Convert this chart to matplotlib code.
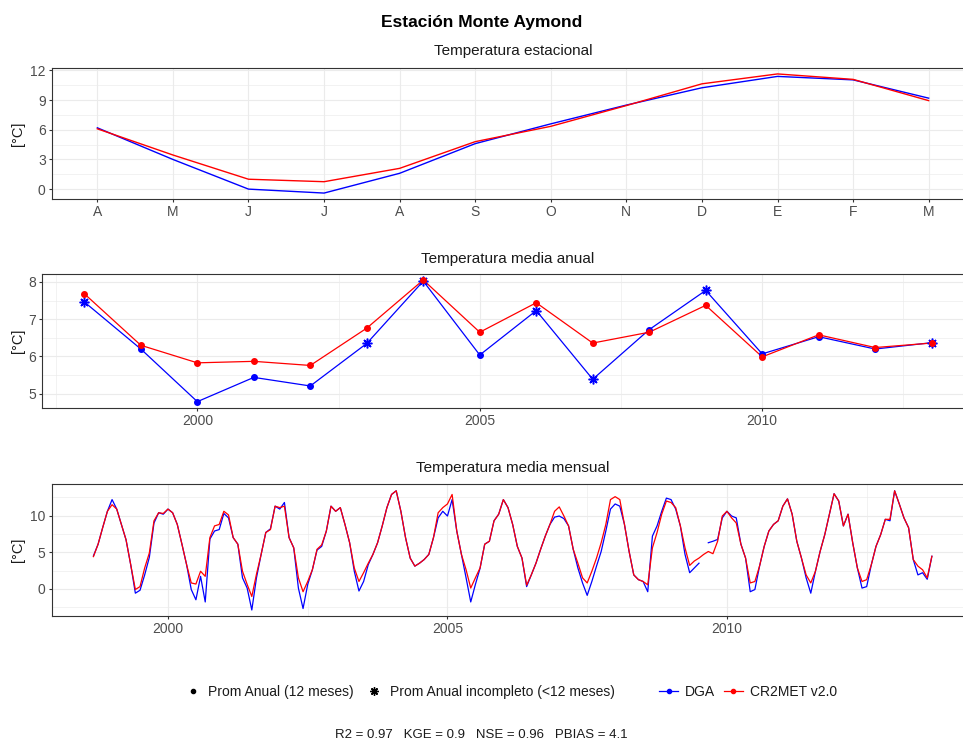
import numpy as np
import matplotlib
matplotlib.use("Agg")
import matplotlib.pyplot as plt
from matplotlib.lines import Line2D
from matplotlib.ticker import MultipleLocator, FixedLocator

plt.rcParams['font.family'] = ['Liberation Sans', 'DejaVu Sans']

# ---------------- data ----------------
meses = ['A', 'M', 'J', 'J', 'A', 'S', 'O', 'N', 'D', 'E', 'F', 'M']
dga_estacional = [6.2, 3.0, 0.0, -0.4, 1.6, 4.6, 6.6, 8.5, 10.25, 11.4, 11.05, 9.2]
cr2_estacional = [6.1, 3.45, 1.0, 0.75, 2.1, 4.8, 6.35, 8.45, 10.65, 11.65, 11.1, 8.95]

anios = list(range(1998, 2014))
dga_anual = [7.46, 6.20, 4.79, 5.44, 5.21, 6.35, 8.02, 6.04, 7.23, 5.39, 6.72, 7.77,
             6.07, 6.53, 6.20, 6.37]
cr2_anual = [7.68, 6.30, 5.83, 5.87, 5.76, 6.76, 8.05, 6.65, 7.44, 6.36, 6.65, 7.37,
             5.99, 6.58, 6.24, 6.36]
dga_completo = [False, True, True, True, True, False, False, True, False, False, True,
                False, True, True, True, False]
cr2_completo = [True] * 16

# monthly series, September 1998 .. September 2013
mes_inicio = (1998, 9)
dga_mensual = [
    4.5, 6.1, 8.4, 10.6,                                                   # 1998
    12.2, 10.9, 8.8, 6.7, 3.3, -0.6, -0.2, 1.9, 4.3, 9.0, 10.4, 10.2,      # 1999
    10.9, 10.4, 8.8, 6.1, 3.3, -0.1, -1.5, 1.7, -1.8, 6.8, 7.9, 8.1,       # 2000
    10.3, 9.7, 7.0, 6.1, 1.5, 0.1, -2.9, 1.5, 4.7, 7.7, 8.2, 11.3,         # 2001
    10.9, 11.8, 7.0, 5.6, 0.1, -2.7, 0.6, 2.6, 5.3, 5.8, 7.9, 11.3,        # 2002
    10.6, 11.1, 8.8, 6.3, 2.4, -0.3, 1.0, 3.3, 4.7, 6.3, 8.6, 11.1,        # 2003
    12.9, 13.4, 10.6, 7.0, 4.2, 3.1, 3.5, 4.0, 4.7, 7.0, 9.7, 10.6,        # 2004
    9.95, 12.2, 7.9, 4.7, 1.5, -1.8, 0.6, 2.8, 6.1, 6.5, 9.3, 10.2,        # 2005
    12.2, 11.1, 8.8, 5.8, 4.2, 0.3, 1.9, 3.5, 5.4, 7.2, 8.8, 9.8,          # 2006
    9.95, 9.6, 8.6, 5.4, 2.85, 0.8, -0.9, 1.0, 3.1, 5.1, 7.9, 10.9,        # 2007
    11.6, 11.3, 8.8, 5.1, 1.9, 1.25, 1.0, -0.4, 7.2, 8.6, 10.6, 12.4,      # 2008
    12.2, 10.9, 8.6, 4.7, 2.2, 2.85, 3.5, np.nan, 6.3, 6.5, 6.75, 9.7,     # 2009
    10.6, 9.95, 9.7, 6.1, 4.2, -0.4, -0.1, 3.1, 5.8, 7.9, 8.8, 9.3,        # 2010
    11.3, 12.3, 10.2, 6.5, 4.2, 1.5, -0.6, 2.4, 5.1, 7.4, 10.2, 13.0,      # 2011
    12.0, 8.6, 10.2, 6.3, 2.85, 0.1, 0.3, 3.3, 5.8, 7.4, 9.5, 9.3,         # 2012
    13.4, 11.6, 9.7, 8.35, 4.0, 1.9, 2.2, 1.3, 4.45,                       # 2013
]
cr2_mensual = [
    4.4, 6.1, 8.4, 10.6,                                                   # 1998
    11.5, 10.9, 8.8, 6.7, 3.3, -0.1, 0.3, 2.85, 4.9, 9.3, 10.4, 10.3,      # 1999
    10.9, 10.4, 8.8, 6.1, 3.3, 0.8, 0.65, 2.4, 1.7, 7.0, 8.6, 8.8,         # 2000
    10.6, 10.1, 7.0, 6.1, 2.4, 0.6, -1.05, 2.0, 4.7, 7.7, 8.1, 11.3,       # 2001
    11.1, 11.3, 7.0, 5.6, 1.5, -0.4, 1.0, 2.6, 5.4, 6.0, 7.9, 11.3,        # 2002
    10.6, 11.1, 8.8, 6.3, 2.85, 1.0, 2.2, 3.5, 4.7, 6.3, 8.6, 11.1,        # 2003
    12.9, 13.4, 10.6, 7.0, 4.2, 3.1, 3.5, 4.0, 4.7, 7.0, 10.4, 11.1,       # 2004
    11.6, 12.9, 7.9, 4.7, 2.6, 0.1, 1.5, 2.85, 6.1, 6.5, 9.3, 10.2,        # 2005
    12.2, 11.1, 8.8, 5.8, 4.2, 0.5, 1.9, 3.5, 5.4, 7.2, 8.8, 10.6,         # 2006
    11.2, 9.95, 8.6, 5.4, 3.5, 1.5, 0.8, 2.4, 4.2, 6.3, 8.8, 12.2,         # 2007
    12.6, 12.2, 8.8, 5.1, 1.9, 1.25, 1.0, 0.55, 5.6, 7.7, 10.2, 12.0,      # 2008
    11.8, 11.1, 8.6, 5.6, 3.2, 3.8, 4.2, 4.7, 5.1, 4.8, 6.5, 9.95,         # 2009
    10.6, 9.7, 9.0, 6.1, 4.2, 0.8, 1.0, 3.1, 5.8, 7.9, 8.8, 9.3,           # 2010
    11.3, 12.3, 10.2, 6.5, 4.2, 1.9, 0.8, 2.4, 5.1, 7.4, 10.2, 13.0,       # 2011
    12.0, 8.6, 10.2, 6.3, 2.85, 1.0, 1.25, 3.3, 5.8, 7.4, 9.5, 9.5,        # 2012
    13.4, 11.6, 9.7, 8.35, 4.0, 3.1, 2.6, 1.5, 4.45,                       # 2013
]

metricas = {'R2': '0.97', 'KGE': '0.9', 'NSE': '0.96', 'PBIAS': '4.1'}

# ---------------- figure ----------------
W, H = 963, 742
fig = plt.figure(figsize=(W / 100, H / 100), dpi=100)

C_DGA = '#0000FF'
C_CR2 = '#FF0000'
STAR = (8, 2, 0)


def axes_px(left, top, right, bottom):
    return fig.add_axes([left / W, 1 - bottom / H, (right - left) / W, (bottom - top) / H])


def estilo(ax):
    ax.set_facecolor('white')
    for s in ax.spines.values():
        s.set_color('#333333')
        s.set_linewidth(0.8)
    ax.grid(which='major', color='#EBEBEB', lw=0.8)
    ax.grid(which='minor', color='#EBEBEB', lw=0.45)
    ax.set_axisbelow(True)
    ax.tick_params(which='major', direction='out', length=2.5, width=0.8,
                   color='#333333', labelsize=10, labelcolor='#4D4D4D', pad=2)
    ax.tick_params(which='minor', length=0)


def titulo_panel(ax, texto, y_px):
    bb = ax.get_position()
    fig.text(bb.x0 + bb.width / 2, 1 - y_px / H, texto, ha='center', va='center',
             fontsize=11, color='#1A1A1A')


def etiqueta_y(ax):
    bb = ax.get_position()
    fig.text(18 / W, bb.y0 + bb.height / 2, '[°C]', rotation=90, ha='center',
             va='center', fontsize=10.5, color='#1A1A1A')


fig.text(0.5, 1 - 22 / H, 'Estación Monte Aymond', ha='center', va='center',
         fontsize=12.5, fontweight='bold')

# --- seasonal panel
ax1 = axes_px(52, 68, 974, 199)
estilo(ax1)
xm = np.arange(len(meses))
ax1.plot(xm, dga_estacional, color=C_DGA, lw=1.0)
ax1.plot(xm, cr2_estacional, color=C_CR2, lw=1.0)
ax1.set_xlim(-0.6, 11.6)
ax1.set_ylim(-1.0, 12.25)
ax1.set_xticks(xm)
ax1.set_xticklabels(meses)
ax1.set_yticks([0, 3, 6, 9, 12])
ax1.yaxis.set_minor_locator(MultipleLocator(1.5))
titulo_panel(ax1, 'Temperatura estacional', 51)
etiqueta_y(ax1)

# --- annual panel
ax2 = axes_px(42, 274, 974, 408)
estilo(ax2)
ax2.plot(anios, dga_anual, color=C_DGA, lw=0.9)
ax2.plot(anios, cr2_anual, color=C_CR2, lw=0.9)
for serie, comp, col in ((dga_anual, dga_completo, C_DGA), (cr2_anual, cr2_completo, C_CR2)):
    xa = np.array(anios)
    ya = np.array(serie)
    ca = np.array(comp)
    ax2.plot(xa[ca], ya[ca], ls='none', marker='o', ms=4, color=col)
    ax2.plot(xa[~ca], ya[~ca], ls='none', marker=STAR, ms=7, mew=1.1, color=col)
ax2.set_xlim(1997.25, 2013.75)
ax2.set_ylim(4.62, 8.21)
ax2.set_xticks([2000, 2005, 2010])
ax2.xaxis.set_minor_locator(FixedLocator([1997.5, 2002.5, 2007.5, 2012.5]))
ax2.set_yticks([5, 6, 7, 8])
ax2.yaxis.set_minor_locator(MultipleLocator(0.5))
titulo_panel(ax2, 'Temperatura media anual', 259)
etiqueta_y(ax2)

# --- monthly panel
ax3 = axes_px(51.7, 484, 974, 616)
estilo(ax3)
n = len(dga_mensual)
t = mes_inicio[0] + (mes_inicio[1] - 1) / 12 + np.arange(n) / 12
ax3.plot(t, dga_mensual, color=C_DGA, lw=0.9)
ax3.plot(t, cr2_mensual, color=C_CR2, lw=0.9)
ax3.set_xlim(1997.92, 2014.42)
ax3.set_ylim(-3.72, 14.33)
ax3.set_xticks([2000, 2005, 2010])
ax3.xaxis.set_minor_locator(FixedLocator([1997.5, 2002.5, 2007.5, 2012.5]))
ax3.set_yticks([0, 5, 10])
ax3.yaxis.set_minor_locator(MultipleLocator(2.5))
titulo_panel(ax3, 'Temperatura media mensual', 468)
etiqueta_y(ax3)

# --- legends
h_forma = [Line2D([], [], ls='none', marker='o', ms=3, color='black'),
           Line2D([], [], ls='none', marker=STAR, ms=6, mew=1, color='black')]
leg1 = fig.legend(h_forma, ['Prom Anual (12 meses)', 'Prom Anual incompleto (<12 meses)'],
                  loc='center', bbox_to_anchor=(400 / W, 1 - 692 / H), ncol=2,
                  frameon=False, fontsize=10, handlelength=1.0, handletextpad=0.6,
                  columnspacing=1.0)
h_color = [Line2D([], [], color=C_DGA, lw=0.9, marker='o', ms=3),
           Line2D([], [], color=C_CR2, lw=0.9, marker='o', ms=3)]
leg2 = fig.legend(h_color, ['DGA', 'CR2MET v2.0'], loc='center',
                  bbox_to_anchor=(748 / W, 1 - 692 / H), ncol=2, frameon=False,
                  fontsize=10, handlelength=1.4, handletextpad=0.5, columnspacing=0.6)
for lg in (leg1, leg2):
    for tx in lg.get_texts():
        tx.set_color('#1A1A1A')

pie = '   '.join(f'{k} = {v}' for k, v in metricas.items())
fig.text(0.5, 1 - 735 / H, pie, ha='center', va='center', fontsize=9.5, color='#1A1A1A')

fig.savefig('out.png', dpi=100, facecolor='white')
